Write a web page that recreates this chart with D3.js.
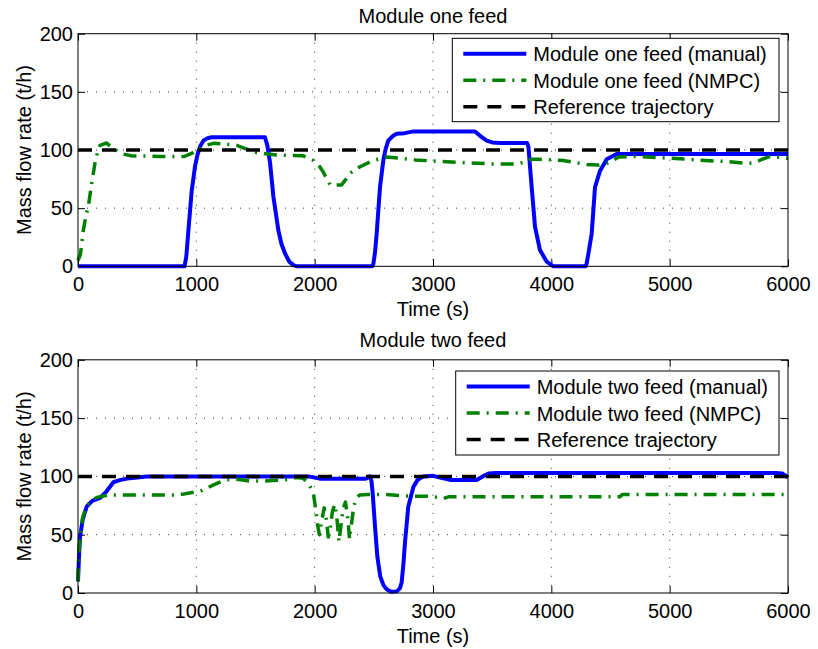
<!DOCTYPE html>
<html>
<head>
<meta charset="utf-8">
<script src="https://cdn.jsdelivr.net/npm/d3@7"></script>
<style>
  body { margin: 0; background: #fff; }
  svg { display: block; font-family: "Liberation Sans", Arial, Helvetica, sans-serif; }
</style>
</head>
<body>
<script>
// data (time in s, flow in t/h)
var oneManual = [[0,0],[900,0],[915,8],[933,31],[961,65],[989,86],[1010,96],[1031,103],[1060,108],[1090,110],[1130,111],
  [1580,111],[1600,104],[1623,89],[1651,60],[1693,31],[1720,19],[1750,11],[1785,4],[1820,1],[1850,0],
  [2485,0],[2496,2],[2510,12],[2524,28],[2552,68],[2580,91],[2600,101],[2622,108],[2660,112],[2693,114],[2760,114.5],
  [2834,116],[3355,116],[3400,112],[3454,108],[3500,106.5],[3566,106],[3795,106],[3806,103],[3834,68],[3862,34],
  [3904,14],[3961,4],[4017,0],[4290,0],[4299,2.5],[4315,12],[4341,28],[4369,68],[4411,82],[4468,92],[4552,96.5],[6000,96.5]];

var oneNmpc = [[0,5],[20,10],[45,31],[70,45],[87,51],[115,71],[144,89],[170,100],[186,104],[242,106],[300,101],
  [383,96.5],[450,95],[700,94.5],[900,94.5],[960,97],[1003,100],[1080,104],[1145,105.7],[1250,105],[1341,104],
  [1420,101],[1510,97.7],[1679,95.7],[1904,95],[1989,91],[2040,86],[2073,81],[2130,70],[2228,70],[2265,75],
  [2299,80],[2383,85.6],[2496,91],[2608,94],[2721,93],[2850,91.5],[3003,90.5],[3285,89],[3500,88],[3700,88],
  [3790,90],[3830,92],[3900,92],[4100,91],[4300,87.5],[4400,87],[4480,89],[4570,94],[4700,94.5],[5000,93],
  [5300,91],[5500,90],[5651,88.5],[5720,89],[5780,92],[5850,94.5],[6000,93]];

var twoManual = [[0,10],[8,30],[17,48],[40,63],[73,74],[120,79],[186,81.5],[240,87],[299,95],[360,97],[440,98.5],
  [580,100],[1950,100],[2050,98],[2430,98],[2468,100],[2480,96],[2490,86],[2510,57],[2530,31],[2555,14],[2580,7],
  [2610,3],[2650,1],[2693,1.4],[2720,4],[2735,9],[2750,25],[2763,43],[2791,74],[2834,91],[2870,97],[2918,100],
  [3000,100.5],[3060,99],[3144,97],[3369,97],[3420,100],[3470,102.5],[3535,103],[5900,103],[5950,102.5],[5989,100],[6000,99]];

var twoNmpc = [[0,10],[8,35],[20,50],[40,65],[70,74],[110,79],[160,82],[250,84],[800,84],[900,85],[989,86.6],
  [1050,88],[1130,92],[1200,95],[1257,97],[1350,97.5],[1450,96],[1550,96],[1650,96.5],[1750,97],[1850,99],
  [1900,98.5],[1950,94],[1990,85],[2000,78],[2010,70],[2025,58],[2040,50],[2060,62],[2080,73],[2100,62],
  [2115,48],[2130,55],[2150,70],[2170,76],[2190,62],[2205,44],[2220,56],[2240,72],[2260,78],[2280,64],
  [2295,46],[2310,58],[2330,74],[2350,81],[2380,84],[2450,84.5],[2600,84.5],[2806,83],[2950,83],[3040,82],
  [3087,81],[3130,82.5],[3300,82.5],[4580,82.5],[4600,84.5],[6000,84.5]];

var reference = [[0,100],[6000,100]];

var xTicks = [0, 1000, 2000, 3000, 4000, 5000, 6000];
var yTicks = [0, 50, 100, 150, 200];

var W = 818, H = 649;
var svg = d3.select("body").append("svg").attr("width", W).attr("height", H);
svg.append("rect").attr("width", W).attr("height", H).attr("fill", "#fff");

var panels = [
  { title: "Module one feed", top: 33.7, bottom: 266.3, titleGap: 10.5, manual: oneManual, nmpc: oneNmpc,
    names: ["Module one feed (manual)", "Module one feed (NMPC)", "Reference trajectory"],
    legend: {x: 452.3, y: 38.3, w: 326.7, h: 83.4} },
  { title: "Module two feed", top: 359.8, bottom: 593, titleGap: 12.5, manual: twoManual, nmpc: twoNmpc,
    names: ["Module two feed (manual)", "Module two feed (NMPC)", "Reference trajectory"],
    legend: {x: 455.7, y: 371, w: 323.3, h: 84} }
];

var left = 78, right = 788;
var styles = [
  {stroke: "#0000ff", width: 4, dash: null},
  {stroke: "#008000", width: 3.5, dash: "13,7,2,7"},
  {stroke: "#000000", width: 3.5, dash: "14,10"}
];

panels.forEach(function (p) {
  var x = d3.scaleLinear().domain([0, 6000]).range([left, right]);
  var y = d3.scaleLinear().domain([0, 200]).range([p.bottom, p.top]);
  var g = svg.append("g");

  // grid
  g.selectAll("line.gx").data(xTicks.slice(1, -1)).enter().append("line")
    .attr("x1", d => x(d)).attr("x2", d => x(d)).attr("y1", p.top).attr("y2", p.bottom)
    .attr("stroke", "#333").attr("stroke-width", 1).attr("stroke-dasharray", "1,8");
  g.selectAll("line.gy").data(yTicks.slice(1, -1)).enter().append("line")
    .attr("x1", left).attr("x2", right).attr("y1", d => y(d)).attr("y2", d => y(d))
    .attr("stroke", "#333").attr("stroke-width", 1).attr("stroke-dasharray", "1,8");

  // axes, MATLAB style ticks pointing inward
  var fmt = d3.format("d");
  var ax = [
    g.append("g").attr("transform", "translate(0," + p.bottom + ")")
      .call(d3.axisBottom(x).tickValues(xTicks).tickFormat(fmt).tickSizeInner(-7).tickSizeOuter(0).tickPadding(10.5)),
    g.append("g").attr("transform", "translate(0," + p.top + ")")
      .call(d3.axisTop(x).tickValues(xTicks).tickSizeInner(-7).tickSizeOuter(0).tickFormat("")),
    g.append("g").attr("transform", "translate(" + left + ",0)")
      .call(d3.axisLeft(y).tickValues(yTicks).tickFormat(fmt).tickSizeInner(-7).tickSizeOuter(0).tickPadding(5)),
    g.append("g").attr("transform", "translate(" + right + ",0)")
      .call(d3.axisRight(y).tickValues(yTicks).tickSizeInner(-7).tickSizeOuter(0).tickFormat(""))
  ];
  ax.forEach(function (a) {
    a.select(".domain").remove();
    a.selectAll("text").attr("font-size", 20).attr("font-family", null).attr("fill", "#000");
    a.selectAll("line").attr("stroke", "#000");
  });

  // lines: manual, NMPC, reference (reference on top)
  var line = d3.line().x(d => x(d[0])).y(d => y(d[1]));
  [p.manual, p.nmpc, reference].forEach(function (data, i) {
    g.append("path").datum(data).attr("d", line)
      .attr("fill", "none").attr("stroke", styles[i].stroke).attr("stroke-width", styles[i].width)
      .attr("stroke-dasharray", styles[i].dash).attr("stroke-linejoin", "round");
  });

  // frame
  g.append("rect").attr("x", left).attr("y", p.top).attr("width", right - left).attr("height", p.bottom - p.top)
    .attr("fill", "none").attr("stroke", "#000").attr("stroke-width", 1);

  // titles
  g.append("text").attr("x", (left + right) / 2).attr("y", p.top - p.titleGap).attr("text-anchor", "middle")
    .attr("font-size", 20).text(p.title);
  g.append("text").attr("x", (left + right) / 2).attr("y", p.bottom + 50).attr("text-anchor", "middle")
    .attr("font-size", 20).text("Time (s)");
  g.append("text").attr("transform", "translate(31," + (p.top + p.bottom) / 2 + ") rotate(-90)")
    .attr("text-anchor", "middle").attr("font-size", 20).text("Mass flow rate (t/h)");

  // legend
  var L = p.legend;
  var lg = g.append("g");
  lg.append("rect").attr("x", L.x).attr("y", L.y).attr("width", L.w).attr("height", L.h)
    .attr("fill", "#fff").attr("stroke", "#000").attr("stroke-width", 1);
  p.names.forEach(function (name, i) {
    var cy = L.y + 15.5 + i * 26.5;
    lg.append("line").attr("x1", L.x + 11).attr("x2", L.x + 74).attr("y1", cy).attr("y2", cy)
      .attr("stroke", styles[i].stroke).attr("stroke-width", styles[i].width)
      .attr("stroke-dasharray", styles[i].dash);
    lg.append("text").attr("x", L.x + 81).attr("y", cy + 7.5).attr("font-size", 20).text(name);
  });
});
</script>
</body>
</html>
